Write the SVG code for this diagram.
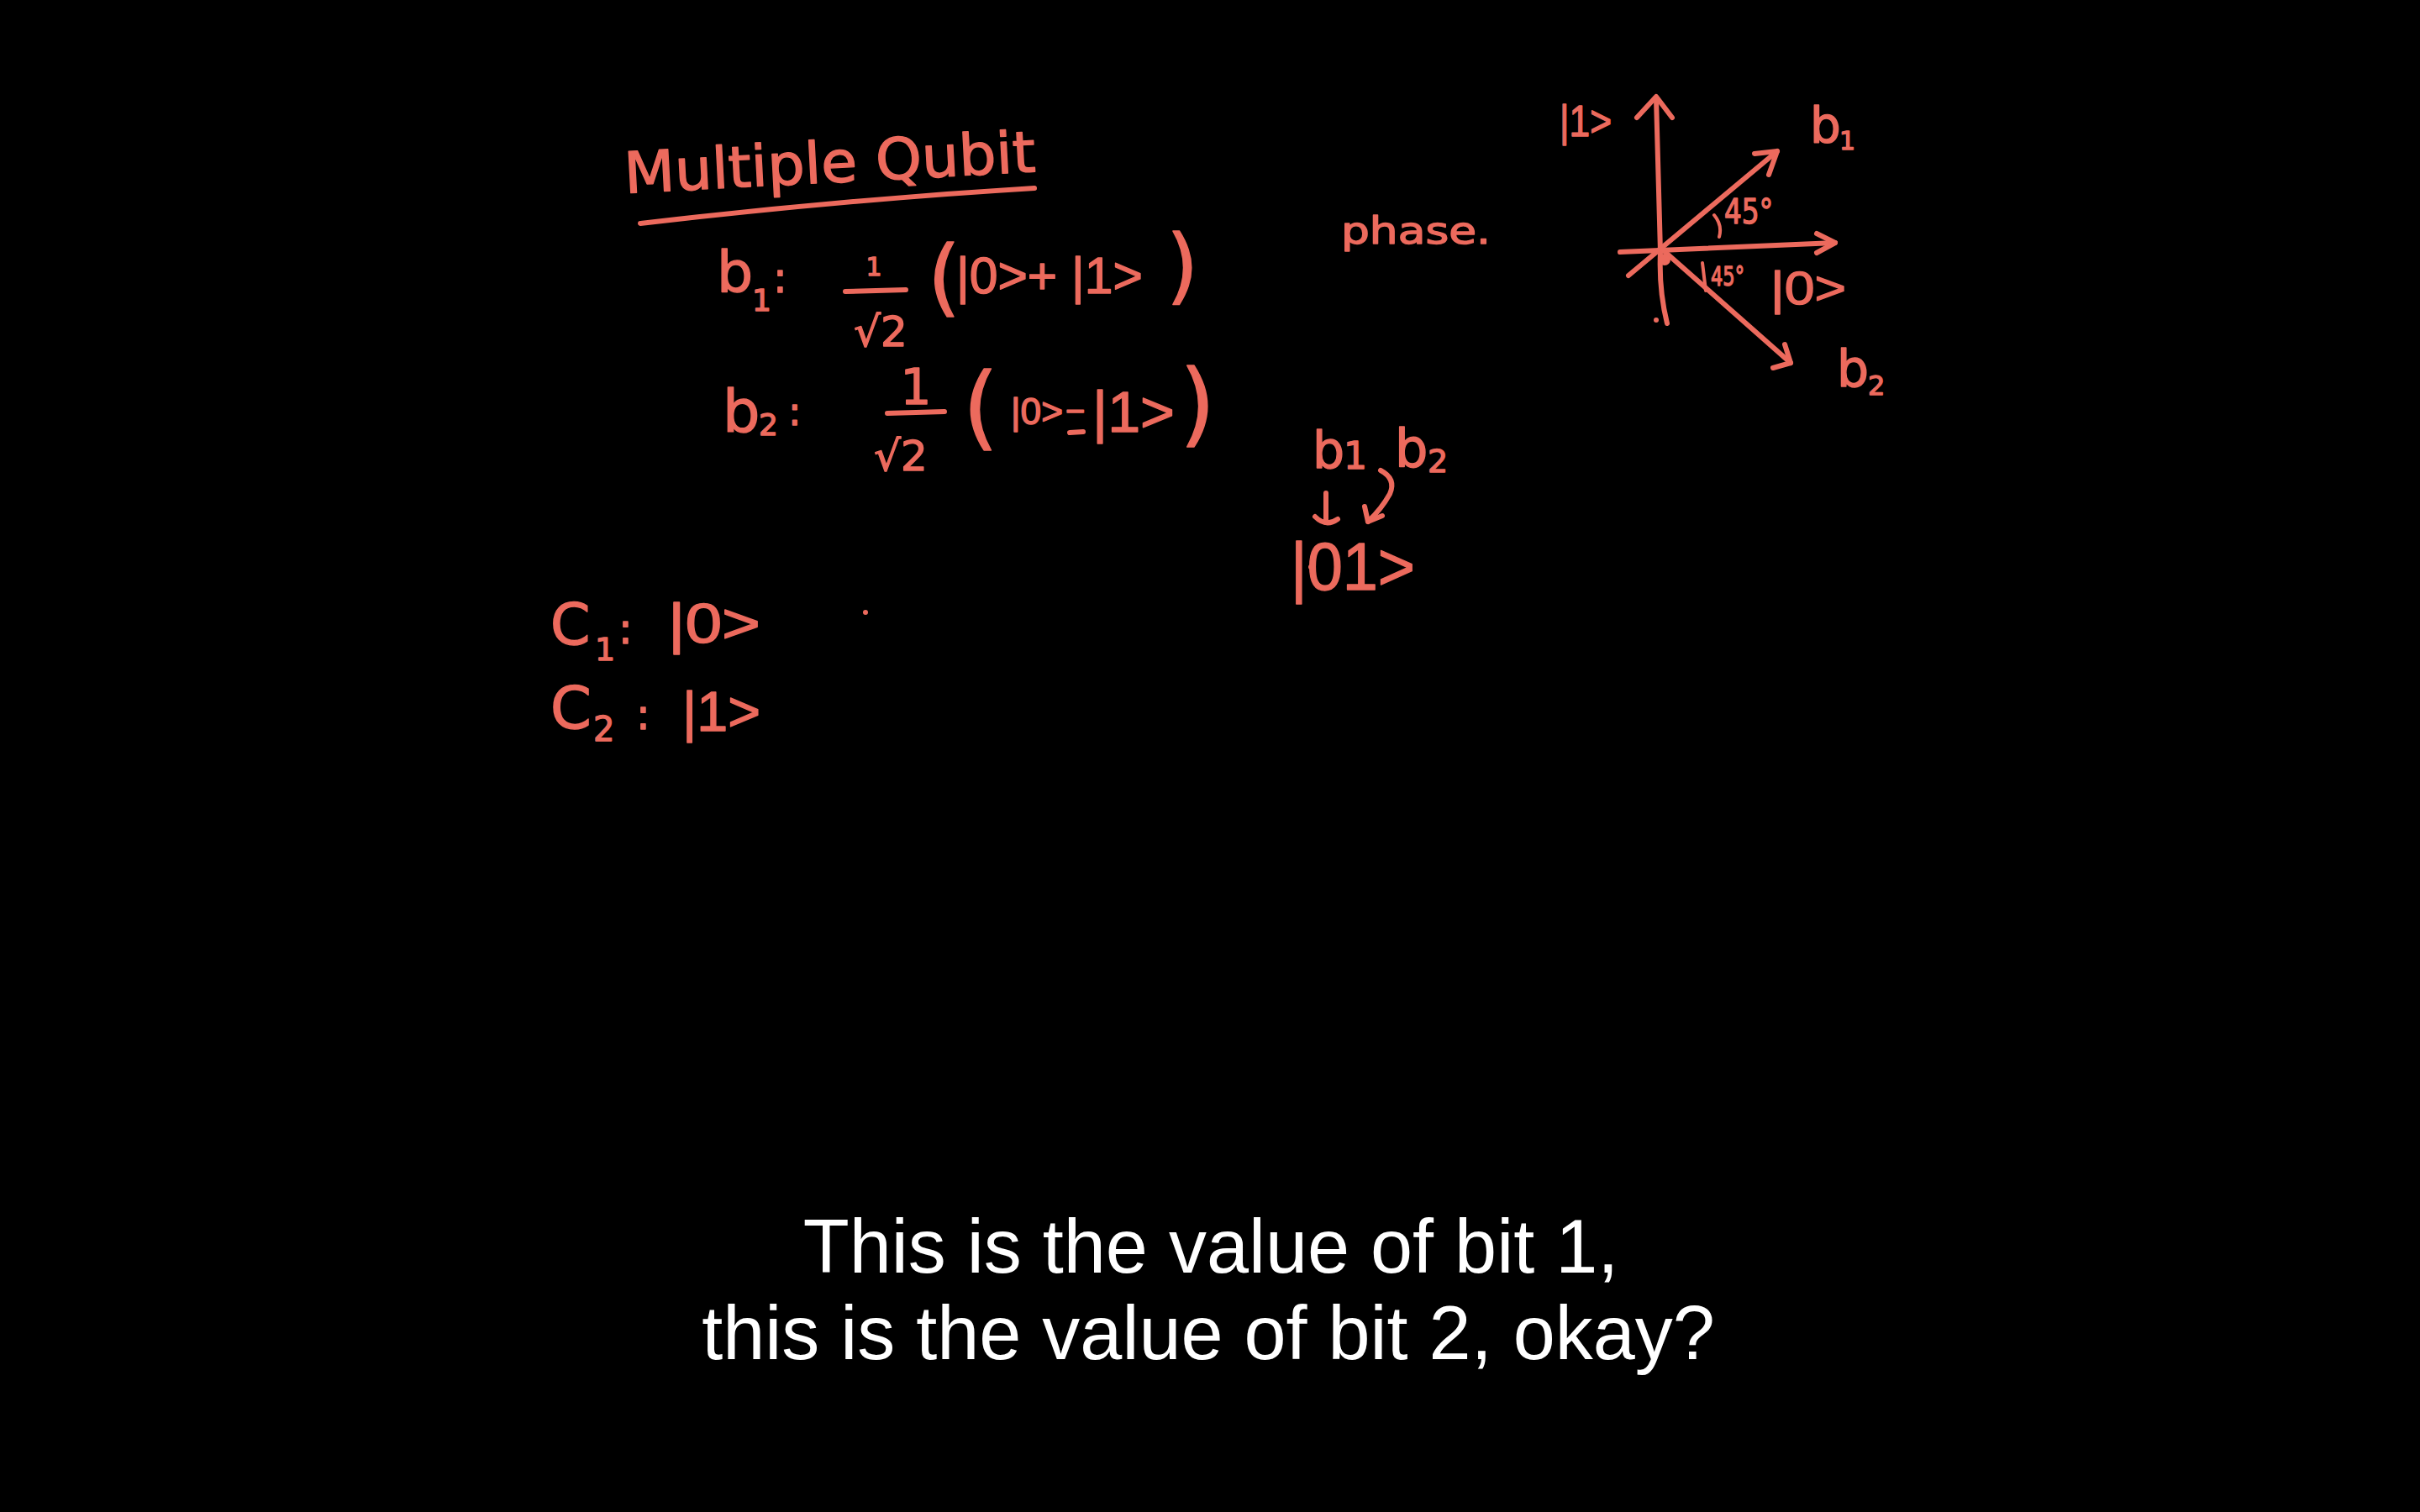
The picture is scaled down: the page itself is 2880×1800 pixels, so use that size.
<svg xmlns="http://www.w3.org/2000/svg" width="2880" height="1800" viewBox="0 0 2880 1800">
<style>
.hw{font-family:"DejaVu Sans","Noto Sans",sans-serif;fill:#ec6a5d;stroke:#ec6a5d;stroke-width:1.4;stroke-linejoin:round}
.kt{font-family:"Liberation Sans",Arial,sans-serif}
.ln{fill:none;stroke:#ec6a5d;stroke-width:6;stroke-linecap:round;stroke-linejoin:round}
.cap{font-family:"Liberation Sans",Arial,sans-serif;font-size:90px;fill:#ffffff;text-anchor:middle}
</style>
<rect width="2880" height="1800" fill="#000"/>

<g id="title">
<text class="hw" x="744" y="230" font-size="68" textLength="490" lengthAdjust="spacingAndGlyphs" transform="rotate(-3 744 230)">Multiple Qubit</text>
<path class="ln" d="M762,266 Q1000,238 1231,224"/>
</g>

<g id="b1-def">
<text class="hw" x="853" y="348" font-size="68">b</text>
<text class="hw" x="895" y="370" font-size="36">1</text>
<text class="hw" x="920" y="348" font-size="50">:</text>
<text class="hw" x="1040" y="328" font-size="30" text-anchor="middle">1</text>
<path class="ln" d="M1006,347 L1078,345"/>
<text class="hw" x="1048" y="412" font-size="50" text-anchor="middle">√2</text>
<text class="hw" x="1104" y="364" font-size="100">(</text>
<text class="hw kt" x="1138" y="349" font-size="62" textLength="222" lengthAdjust="spacingAndGlyphs">|0&gt;+ |1&gt;</text>
<text class="hw" x="1388" y="350" font-size="98">)</text>
</g>

<g id="b2-def">
<text class="hw" x="860" y="514" font-size="70">b</text>
<text class="hw" x="903" y="518" font-size="36">2</text>
<text class="hw" x="938" y="506" font-size="46">:</text>
<text class="hw" x="1090" y="481" font-size="58" text-anchor="middle">1</text>
<path class="ln" d="M1056,492 L1124,490"/>
<text class="hw" x="1072" y="560" font-size="50" text-anchor="middle">√2</text>
<text class="hw" x="1146" y="522" font-size="108">(</text>
<text class="hw kt" x="1203" y="505" font-size="44" textLength="62" lengthAdjust="spacingAndGlyphs">|0&gt;</text>
<text class="hw kt" x="1268" y="503" font-size="40">−</text>
<path class="ln" d="M1273,515 L1289,514"/>
<text class="hw kt" x="1300" y="514" font-size="68" textLength="98" lengthAdjust="spacingAndGlyphs">|1&gt;</text>
<text class="hw" x="1404" y="518" font-size="108">)</text>
</g>

<g id="phase">
<text class="hw" x="1596" y="290" font-size="44" textLength="178" lengthAdjust="spacingAndGlyphs">phase.</text>
</g>

<g id="phase-diagram">
<path class="ln" d="M1984,385 Q1974,345 1976,300 L1971,117"/>
<path class="ln" d="M1948,140 L1971,115 L1990,140"/>
<path class="ln" d="M1928,300 L2184,289"/>
<path class="ln" d="M2162,278 L2184,289 L2162,301"/>
<path class="ln" d="M1938,328 L2115,180"/>
<path class="ln" d="M2088,183 L2115,180 L2105,208"/>
<path class="ln" d="M1976,295 L2131,432"/>
<path class="ln" d="M2110,438 L2131,432 L2124,410"/>
<circle cx="1981" cy="309" r="7" fill="#ec6a5d"/>
<circle cx="1971" cy="381" r="3" fill="#ec6a5d"/>
<path class="ln" style="stroke-width:4" d="M2040,256 Q2050,268 2046,282"/>
<text class="hw" x="2052" y="266" font-size="40" textLength="58" lengthAdjust="spacingAndGlyphs">45°</text>
<path class="ln" style="stroke-width:4" d="M2026,313 L2030,346"/>
<text class="hw" x="2036" y="340" font-size="32" textLength="40" lengthAdjust="spacingAndGlyphs">45°</text>
<text class="hw kt" x="1856" y="162" font-size="52" textLength="62" lengthAdjust="spacingAndGlyphs">|1&gt;</text>
<text class="hw" x="2154" y="170" font-size="58">b</text>
<text class="hw" x="2189" y="178" font-size="30">1</text>
<text class="hw kt" x="2107" y="362" font-size="56" textLength="90" lengthAdjust="spacingAndGlyphs">|0&gt;</text>
<text class="hw" x="2186" y="460" font-size="60">b</text>
<text class="hw" x="2223" y="470" font-size="32">2</text>
</g>

<g id="b1b2-ket">
<text class="hw" x="1562" y="557" font-size="60">b</text>
<text class="hw" x="1599" y="558" font-size="44">1</text>
<text class="hw" x="1660" y="555" font-size="62">b</text>
<text class="hw" x="1699" y="562" font-size="38">2</text>
<path class="ln" d="M1578,587 L1578,622"/>
<path class="ln" d="M1565,615 Q1578,628 1592,618"/>
<path class="ln" d="M1643,560 Q1662,570 1654,588 Q1644,606 1628,621"/>
<path class="ln" d="M1624,603 L1628,621 L1645,614"/>
<text class="hw kt" x="1536" y="702" font-size="80" textLength="148" lengthAdjust="spacingAndGlyphs">|01&gt;</text>
<circle cx="1560" cy="675" r="3" fill="#ec6a5d"/>
</g>

<g id="c1">
<text class="hw" x="655" y="767" font-size="68">C</text>
<text class="hw" x="708" y="786" font-size="38">1</text>
<text class="hw" x="736" y="766" font-size="50">:</text>
<text class="hw kt" x="795" y="765" font-size="66" textLength="110" lengthAdjust="spacingAndGlyphs">|0&gt;</text>
<circle cx="1030" cy="729" r="3" fill="#ec6a5d"/>
</g>

<g id="c2">
<text class="hw" x="655" y="867" font-size="70">C</text>
<text class="hw" x="706" y="882" font-size="40">2</text>
<text class="hw" x="757" y="868" font-size="50">:</text>
<text class="hw kt" x="812" y="870" font-size="66" textLength="93" lengthAdjust="spacingAndGlyphs">|1&gt;</text>
</g>

<g id="caption">
<text class="cap" x="1441" y="1515">This is the value of bit 1,</text>
<text class="cap" x="1438" y="1618">this is the value of bit 2, okay?</text>
</g>
</svg>
